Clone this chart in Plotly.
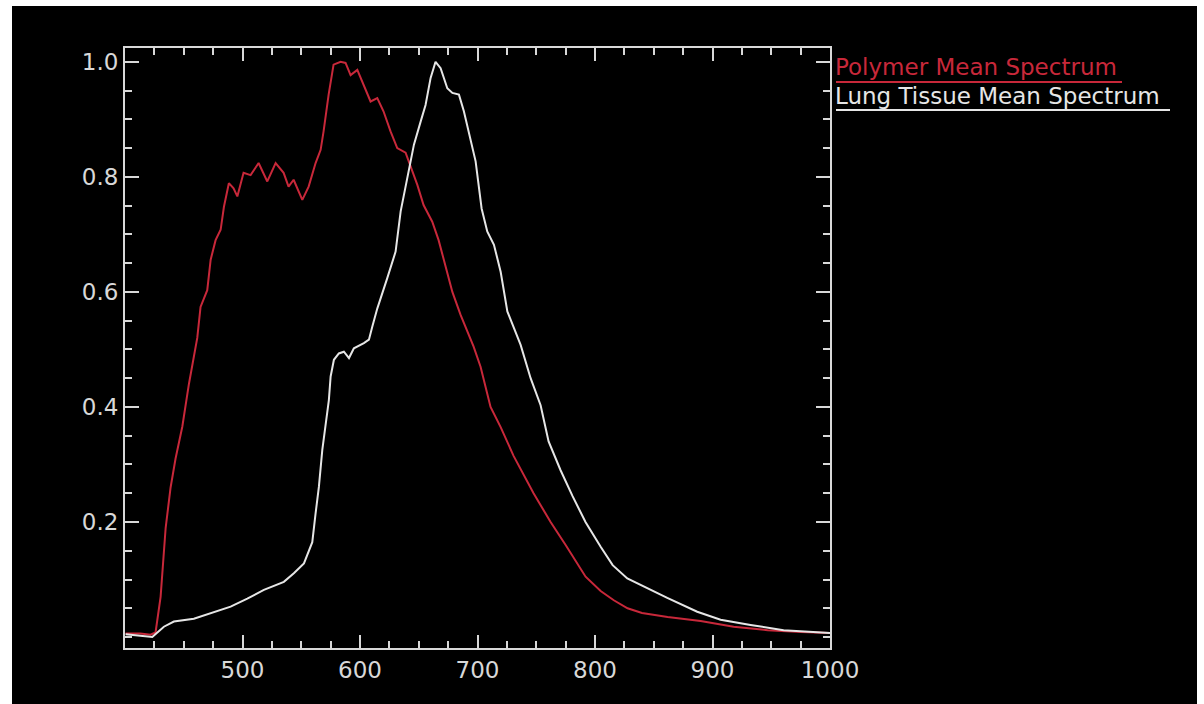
import plotly.graph_objects as go

# ---- data ----
polymer_wl = [400.5, 413, 421.8, 426, 430.3, 434.6, 438.8, 443, 448.8, 454.4, 461.5, 464.3, 470, 472.9,
              477.1, 481.4, 484.2, 488.4, 492.4, 495.6, 500.9, 506.9, 513.7, 521.1, 528.2, 535, 539.2,
              543.5, 550.9, 556.3, 562.2, 566.5, 569, 573.3, 577.5, 583.5, 587.7, 592, 597.7, 603, 609,
              614.7, 620, 626, 631.7, 638.8, 643, 648.8, 654.1, 661.5, 666.9, 674.3, 678.6, 685.6, 691.3,
              696.7, 702.6, 711.1, 719.7, 730.7, 747.7, 762.2, 775, 784, 792, 804.8, 816, 827.7, 840,
              861.8, 889.9, 918, 946.9, 975, 1000]
polymer_val = [0.006, 0.006, 0.004, 0.008, 0.07, 0.19, 0.26, 0.31, 0.366, 0.44, 0.52, 0.574, 0.603, 0.656,
               0.69, 0.708, 0.748, 0.789, 0.78, 0.766, 0.807, 0.803, 0.824, 0.792, 0.824, 0.807, 0.783,
               0.795, 0.76, 0.783, 0.824, 0.847, 0.879, 0.943, 0.995, 1.0, 0.998, 0.977, 0.986, 0.96, 0.931,
               0.937, 0.914, 0.879, 0.85, 0.842, 0.82, 0.786, 0.751, 0.722, 0.69, 0.635, 0.60, 0.56, 0.53,
               0.505, 0.47, 0.40, 0.365, 0.315, 0.25, 0.20, 0.16, 0.13, 0.105, 0.08, 0.064, 0.05, 0.042,
               0.035, 0.028, 0.018, 0.012, 0.009, 0.007]

lung_wl = [400.5, 423.2, 433.1, 441.6, 458.6, 472.9, 489.9, 504.1, 518.2, 535.2, 543.7, 552.3, 559.4, 562.2,
           565, 567.9, 570.7, 573.5, 575, 577.8, 582, 586.3, 590.6, 594.8, 603.3, 607.6, 610.5, 614.7,
           623.2, 630.3, 634.6, 640.3, 645.9, 651.6, 655.8, 660.1, 664.3, 668.6, 674.3, 678.6, 684.2,
           688.4, 694.1, 698.4, 703.5, 708.3, 714, 719.7, 725.4, 731, 736.7, 745.2, 753.7, 760.5, 770.7,
           780.9, 791.9, 804.8, 815, 827.5, 847.3, 861.5, 887, 906.9, 932.4, 960.5, 1000]
lung_val = [0.005, 0.0, 0.018, 0.027, 0.032, 0.041, 0.053, 0.067, 0.082, 0.096, 0.111, 0.128, 0.165, 0.215,
            0.261, 0.325, 0.366, 0.412, 0.453, 0.482, 0.493, 0.496, 0.485, 0.502, 0.511, 0.517, 0.54, 0.571,
            0.624, 0.67, 0.74, 0.798, 0.856, 0.896, 0.925, 0.972, 1.0, 0.989, 0.954, 0.946, 0.943,
            0.914, 0.867, 0.827, 0.745, 0.705, 0.682, 0.635, 0.566, 0.537, 0.508, 0.45, 0.403, 0.34, 0.29,
            0.245, 0.20, 0.157, 0.125, 0.102, 0.082, 0.068, 0.044, 0.03, 0.021, 0.012, 0.007]

x_ticks = [500, 600, 700, 800, 900, 1000]
y_ticks = [0.2, 0.4, 0.6, 0.8, 1.0]
y_tick_text = ["0.2", "0.4", "0.6", "0.8", "1.0"]
series_names = ["Polymer Mean Spectrum", "Lung Tissue Mean Spectrum"]

RED = "#c8283a"
WHITE = "#e6e6e6"
AXIS = "#d8d8d8"

fig = go.Figure()
fig.add_trace(go.Scatter(x=polymer_wl, y=polymer_val, mode="lines",
                         line=dict(color=RED, width=2), name=series_names[0], showlegend=False))
fig.add_trace(go.Scatter(x=lung_wl, y=lung_val, mode="lines",
                         line=dict(color=WHITE, width=2), name=series_names[1], showlegend=False))

W, H = 1204, 704
L, R, T, B = 125, 374, 48, 56
pw, ph = W - L - R, H - T - B

def px(xp):
    return (xp - L) / pw

def py(yp):
    return (H - B - yp) / ph

tickfont = dict(family="DejaVu Sans", size=23, color=AXIS)

fig.update_xaxes(range=[400, 1000], tickmode="array", tickvals=x_ticks,
                 ticks="inside", ticklen=13, tickwidth=2, tickcolor=AXIS,
                 showline=True, linecolor=AXIS, linewidth=2, mirror="allticks",
                 showgrid=False, zeroline=False, tickfont=tickfont,
                 minor=dict(tickmode="linear", tick0=400, dtick=25, ticks="inside",
                            ticklen=7, tickwidth=2, tickcolor=AXIS, showgrid=False))
fig.update_yaxes(range=[-0.019, 1.024], tickmode="array", tickvals=y_ticks, ticktext=y_tick_text,
                 ticks="inside", ticklen=14, tickwidth=2, tickcolor=AXIS,
                 showline=True, linecolor=AXIS, linewidth=2, mirror="allticks",
                 showgrid=False, zeroline=False, tickfont=tickfont,
                 minor=dict(tickmode="linear", tick0=0, dtick=0.05, ticks="inside",
                            ticklen=7, tickwidth=2, tickcolor=AXIS, showgrid=False))

shapes = [
    dict(type="rect", xref="paper", yref="paper", x0=px(12), x1=px(1197), y0=py(704), y1=py(6),
         fillcolor="black", line=dict(width=0), layer="below"),
    dict(type="line", xref="paper", yref="paper", x0=px(836), x1=px(1122), y0=py(82), y1=py(82),
         line=dict(color=RED, width=2)),
    dict(type="line", xref="paper", yref="paper", x0=px(836), x1=px(1170), y0=py(110), y1=py(110),
         line=dict(color=WHITE, width=2)),
]

annotations = [
    dict(text=series_names[0], xref="paper", yref="paper", x=px(833), y=py(67),
         xanchor="left", yanchor="middle", showarrow=False,
         font=dict(family="DejaVu Sans", size=23, color=RED)),
    dict(text=series_names[1], xref="paper", yref="paper", x=px(833), y=py(96),
         xanchor="left", yanchor="middle", showarrow=False,
         font=dict(family="DejaVu Sans", size=23, color=WHITE)),
]

fig.update_layout(width=W, height=H, margin=dict(l=L, r=R, t=T, b=B),
                  paper_bgcolor="white", plot_bgcolor="black",
                  shapes=shapes, annotations=annotations, showlegend=False)

fig.write_html("out.html")
